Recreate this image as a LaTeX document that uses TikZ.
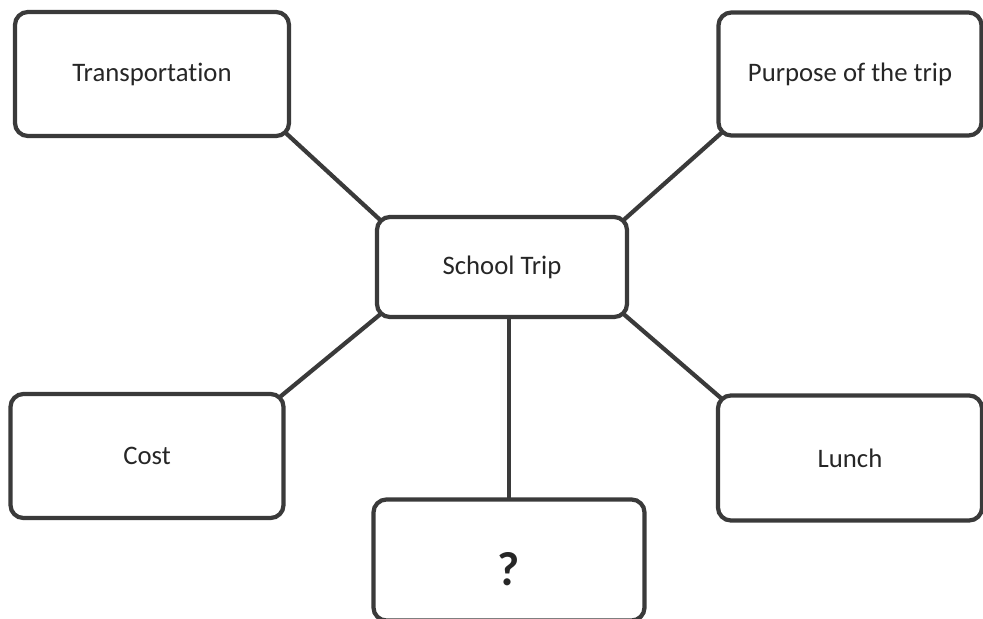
\documentclass[tikz,border=0pt]{standalone}
\usepackage{fontspec}
\setmainfont{Carlito}[Ligatures=NoCommon]
\usepackage{tikz}
\usepackage{xcolor}
\usetikzlibrary{positioning}
\definecolor{edge}{HTML}{3A3A3A}
\begin{document}
\begin{tikzpicture}[x=0.025cm,y=-0.025cm]
\tikzstyle{box}=[draw=edge,line width=3pt,rounded corners=0.325cm,inner sep=0pt,outer sep=0pt,font=\fontsize{19}{23}\selectfont,text=black!85]
\tikzstyle{link}=[draw=edge,line width=3pt,shorten <=-3.5pt,shorten >=-3.5pt]
\useasboundingbox (0,0) rectangle (983,618);
\clip (0,0) rectangle (983,618);
\node [box,minimum width=6.85cm,minimum height=3.1cm] (trans) at (152,74) {Transportation};
\node [box,minimum width=6.575cm,minimum height=3.075cm] (purpose) at (850,74) {Purpose of the trip};
\node [box,minimum width=6.25cm,minimum height=2.5cm] (trip) at (502,267) {School Trip};
\node [box,minimum width=6.825cm,minimum height=3.1cm] (cost) at (147,456) {Cost};
\node [box,minimum width=6.6cm,minimum height=3.125cm] (lunch) at (850,458) {Lunch};
\node [box,minimum width=6.775cm,minimum height=3.025cm,font=\fontsize{34}{38}\selectfont\bfseries] (unknown) at (509,560) {\raisebox{-18pt}[0pt][0pt]{?}};
\draw [link] (trans.south east) -- (trip.north west);
\draw [link] (purpose.south west) -- (trip.north east);
\draw [link] (cost.north east) -- (trip.south west);
\draw [link] (lunch.north west) -- (trip.south east);
\draw [draw=edge,line width=3pt] (unknown.north |- trip.south) -- (unknown.north);
\end{tikzpicture}
\end{document}
